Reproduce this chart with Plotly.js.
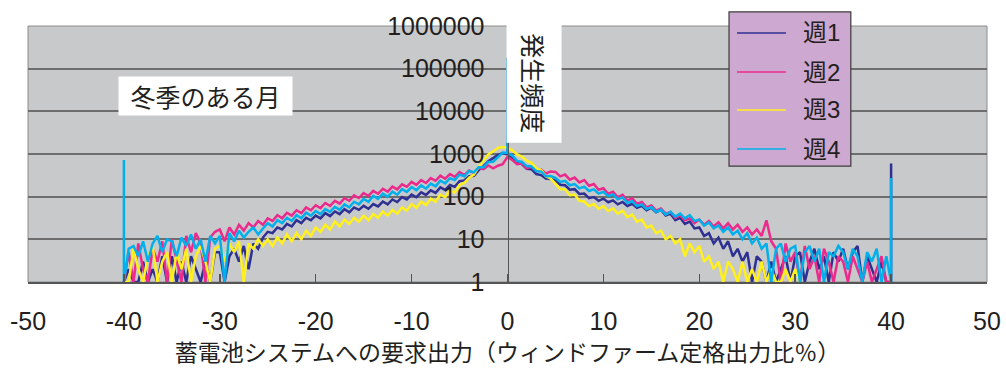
<!DOCTYPE html>
<html><head><meta charset="utf-8">
<script src="https://cdn.plot.ly/plotly-3.0.1.min.js"></script>
<style>html,body{margin:0;padding:0;background:#fff;} #chart{width:1006px;height:372px;}</style>
</head><body><div id="chart"></div>
<script>
// bin grid of the histogram (x, % of wind-farm rating)
const xStart = -40, xStep = 0.5, nBins = 161;
const weekNames = ['週1', '週2', '週3', '週4'];
const weekColors = ['#2e3192', '#ec2a8c', '#fff01e', '#00b0ec'];

const week1 = [
1,2,1,1,3,1,2,1,4,1,
4,1,3,1,4,2,1,3,1,5,
5,1,4,6,3,7,2,8,6,11,
15,14,19,17,23,20,28,24,32,28,
36,31,41,35,45,39,51,43,56,49,
61,52,67,59,77,66,86,75,98,86,
112,97,126,110,141,123,165,144,187,170,
230,240,300,310,420,520,680,800,950,1050,
980,
820,630,580,450,440,340,320,265,260,
240,190,185,145,150,116,118,92,98,80,
90,74,82,66,75,60,68,55,61,48,
55,43,49,36,40,28,32,23,26,18,
19,12,14,8,11,6,9,4,6,3,
5,1,4,3,1,3,1,2,4,1,
4,5,1,3,6,2,4,1,5,3,
6,2,5,7,1,4,2,1,3,1,
1];

const week2 = [
1,5,1,8,2,1,6,3,9,1,
10,3,1,12,5,14,8,1,11,15,
17,9,19,13,22,16,24,19,27,22,
31,27,37,31,42,36,48,41,56,48,
63,54,71,61,80,69,92,80,107,93,
122,104,137,117,153,131,172,148,195,170,
222,189,244,209,272,236,310,263,338,292,
375,320,410,360,470,440,540,460,530,580,
860,
720,580,600,460,500,400,430,350,390,
380,300,330,250,280,215,245,180,198,145,
158,117,130,97,110,81,92,68,75,56,
62,47,53,40,44,32,37,28,31,24,
29,22,27,20,25,18,24,17,22,15,
19,13,17,12,28,9,6,1,8,3,
5,1,7,2,4,1,6,3,1,4,
3,1,4,2,1,3,1,2,4,1,
1];

const week3 = [
1,1,6,2,1,4,7,1,3,5,
1,5,2,6,1,4,7,3,1,6,
7,3,8,5,9,1,8,6,10,7,
10,7,11,8,13,9,14,10,16,12,
19,15,22,17,26,20,29,23,32,26,
36,28,39,32,45,36,49,40,56,47,
67,55,76,64,90,76,112,97,140,125,
190,210,280,330,500,720,980,1150,1380,1450,
1400,
1220,980,870,700,620,460,420,300,265,
200,150,150,108,112,80,77,60,67,52,
60,46,53,40,47,33,38,26,29,19,
21,14,16,10,12,8,10,4,8,5,
7,3,4,2,3,1,3,2,1,3,
1,2,1,3,1,2,1,1,2,1,
2,1,null,null,null,null,null,null,null,null,
null,null,null,null,null,null,null,null,null,null,
null];

const week4 = [
1,6,7,4,9,3,8,12,5,10,
9,4,11,7,13,6,10,3,12,8,
12,1,14,9,16,11,15,19,13,18,
24,20,28,24,32,27,37,31,42,36,
46,39,51,44,58,49,66,56,76,66,
89,76,104,89,118,99,131,111,150,129,
168,142,184,154,202,174,238,205,270,245,
330,300,400,370,490,490,650,660,850,1080,
1050,
920,690,650,520,510,395,390,300,305,
275,222,235,185,198,156,172,136,148,118,
130,103,113,87,96,72,78,60,66,51,
57,44,50,38,44,34,40,31,37,27,
29,21,25,18,21,15,19,13,16,10,
14,8,11,6,8,1,6,8,3,6,
7,1,5,7,3,6,1,5,4,7,
5,2,6,4,1,5,3,6,1,4,
1];

// single-bin spikes (x = -40, 0, +40)
const spikeX = [-40, 0, 40];
const spike1 = [null, 180000, 600];
const spike2 = [null, null, null];
const spike3 = [null, null, null];
const spike4 = [720, 170000, 275];

const xTickVals = [-50, -40, -30, -20, -10, 0, 10, 20, 30, 40, 50];
const xTickText = ['-50', '-40', '-30', '-20', '-10', '0', '10', '20', '30', '40', '50'];
const yTickVals = [1, 10, 100, 1000, 10000, 100000, 1000000];
const yTickText = ['1', '10', '100', '1000', '10000', '100000', '1000000'];

const series = [week1, week2, week3, week4];
const spikes = [spike1, spike2, spike3, spike4];

function buildXY(vals, sp) {
  const x = [], y = [];
  for (let i = 0; i < nBins; i++) {
    const xv = Math.round((xStart + i * xStep) * 10) / 10;
    const k = spikeX.indexOf(xv);
    if (k >= 0 && sp[k] != null) {
      x.push(xv, xv, xv); y.push(vals[i], sp[k], vals[i]);
    } else { x.push(xv); y.push(vals[i]); }
  }
  return {x, y};
}

const traces = series.map((s, i) => {
  const d = buildXY(s, spikes[i]);
  return {type: 'scatter', mode: 'lines', x: d.x, y: d.y, name: weekNames[i],
    showlegend: false, line: {color: weekColors[i], width: 2.5}, connectgaps: false};
});

const CJK = 'Noto Sans CJK JP';
const TXT = '#231f20';

// legend box drawn in paper coordinates
const legX0 = 0.731, legX1 = 0.858, legY0 = 0.453, legY1 = 1.055;
const legLineX0 = 0.7393, legLineX1 = 0.7904, legTextX = 0.806;
const legRowY = [0.9727, 0.8203, 0.6719, 0.5195];

const shapes = [
  {type: 'rect', xref: 'paper', yref: 'paper', x0: 0, x1: 1, y0: 0, y1: 1,
    line: {color: '#8c8c8c', width: 1}, layer: 'below'},
  {type: 'rect', xref: 'paper', yref: 'paper', x0: legX0, x1: legX1, y0: legY0, y1: legY1,
    fillcolor: '#cda8d0', line: {color: '#3a3a3a', width: 1.2}, layer: 'above'}
];
const annotations = [
  {text: '冬季のある月', x: -31.5, y: 4.36, xref: 'x', yref: 'y', showarrow: false,
    bgcolor: '#ffffff', width: 165, height: 30, borderpad: 4, font: {family: CJK, size: 25, color: TXT}},
  {text: '発生頻度', x: 2.75, y: 4.66, xref: 'x', yref: 'y', showarrow: false, textangle: 90,
    bgcolor: '#ffffff', borderpad: 9, font: {family: CJK, size: 25, color: TXT}}
];
weekNames.forEach((nm, i) => {
  shapes.push({type: 'line', xref: 'paper', yref: 'paper', x0: legLineX0, x1: legLineX1,
    y0: legRowY[i], y1: legRowY[i], line: {color: weekColors[i], width: 1.6}, layer: 'above'});
  annotations.push({text: nm, xref: 'paper', yref: 'paper', x: legTextX, y: legRowY[i],
    xanchor: 'left', yanchor: 'middle', showarrow: false,
    font: {family: 'Liberation Sans, ' + CJK, size: 24, color: TXT}});
});

const layout = {
  width: 1006, height: 372,
  margin: {l: 28, r: 19, t: 26, b: 90},
  paper_bgcolor: '#ffffff', plot_bgcolor: '#c8c9cb',
  font: {family: 'Liberation Sans, Arial, ' + CJK, size: 24, color: TXT},
  showlegend: false,
  xaxis: {range: [-50, 50], tickvals: xTickVals, ticktext: xTickText, showgrid: false, zeroline: false,
    showline: true, linecolor: '#555', linewidth: 1.5,
    ticks: 'inside', ticklen: 8, tickwidth: 1.5, tickcolor: '#555',
    ticklabelstandoff: 16, tickfont: {size: 25},
    title: {text: '蓄電池システムへの要求出力（ウィンドファーム定格出力比％）',
      font: {family: CJK, size: 23}, standoff: 7}},
  yaxis: {type: 'log', range: [0, 6], tickvals: yTickVals, ticktext: yTickText,
    anchor: 'free', position: 0.5, showline: true, linecolor: '#555', linewidth: 1.5,
    gridcolor: '#6d6d6d', gridwidth: 2, ticks: '', ticklabelstandoff: 18,
    tickfont: {size: 25}, zeroline: false},
  annotations: annotations,
  shapes: shapes
};

Plotly.newPlot('chart', traces, layout, {staticPlot: true, displayModeBar: false});
</script></body></html>
